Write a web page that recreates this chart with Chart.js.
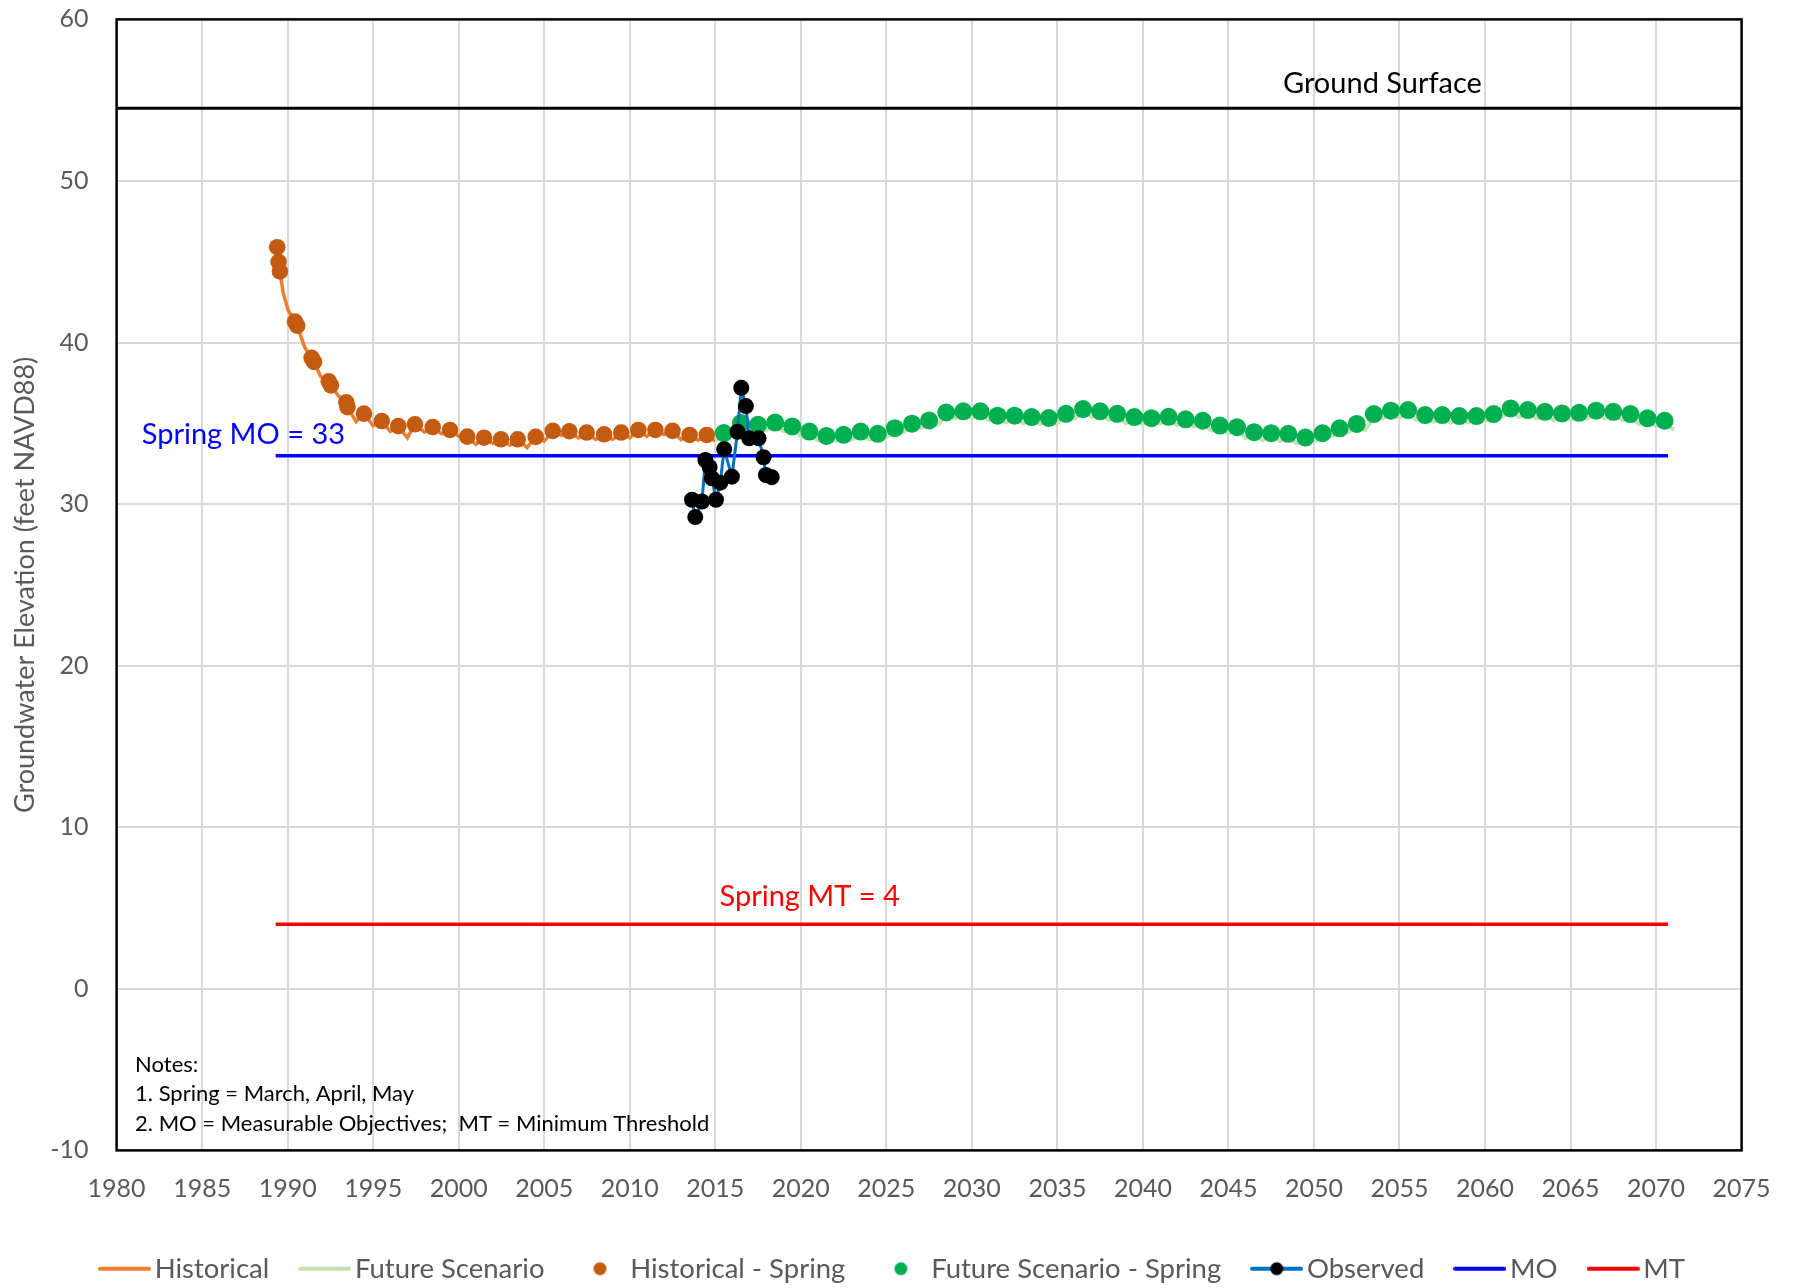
<!DOCTYPE html>
<html><head><meta charset="utf-8">
<script src="https://cdn.jsdelivr.net/npm/chart.js@4.4.1/dist/chart.umd.min.js"></script>
<style>html,body{margin:0;padding:0;background:#fff;}canvas{display:block;}</style>
</head><body>
<canvas id="c" width="1793" height="1288"></canvas>
<script>
// ---------- DATA ----------
const xTickLabels = [1980,1985,1990,1995,2000,2005,2010,2015,2020,2025,2030,2035,2040,2045,2050,2055,2060,2065,2070,2075];
const yTickLabels = [-10,0,10,20,30,40,50,60];

const histSpringX = [1989.39,1989.47,1989.55,1990.43,1990.56,1991.40,1991.54,1992.40,1992.53,1993.43,1993.50,1994.46,1995.50,1996.47,1997.44,1998.48,1999.49,2000.50,2001.48,2002.47,2003.45,2004.50,2005.50,2006.47,2007.48,2008.50,2009.50,2010.50,2011.50,2012.50,2013.50,2014.50];
const histSpringY = [45.9,45.0,44.4,41.3,41.05,39.05,38.8,37.6,37.35,36.3,36.0,35.6,35.14,34.83,34.94,34.77,34.59,34.18,34.11,34.01,34.01,34.16,34.53,34.51,34.43,34.32,34.43,34.59,34.59,34.53,34.28,34.28];

const histLineX = [1989.39,1989.47,1989.55,1989.74,1990.03,1990.43,1990.56,1991.0,1991.40,1991.54,1991.93,1992.40,1992.53,1992.96,1993.43,1993.50,1994.0,1994.46,1995.0,1995.50,1996.0,1996.47,1997.0,1997.44,1998.0,1998.48,1999.0,1999.49,2000.0,2000.50,2001.0,2001.48,2002.0,2002.47,2003.0,2003.45,2004.0,2004.50,2005.0,2005.50,2006.0,2006.47,2007.0,2007.48,2008.0,2008.50,2009.0,2009.50,2010.0,2010.50,2011.0,2011.50,2012.0,2012.50,2013.0,2013.50,2014.0,2014.50,2015.0];
const histLineY = [45.9,45.0,44.4,43.07,42.0,41.3,41.05,39.7,39.05,38.8,37.9,37.6,37.35,36.7,36.3,36.0,35.1,35.6,34.85,35.14,34.5,34.83,34.1,34.94,34.45,34.77,34.35,34.59,34.2,34.18,33.7,34.11,33.75,34.01,33.65,34.01,33.5,34.16,33.9,34.53,34.25,34.51,34.1,34.43,34.0,34.32,34.0,34.43,34.1,34.59,34.2,34.59,34.3,34.53,34.0,34.28,33.95,34.28,33.9];

const futSpringX = [2015.5,2016.5,2017.5,2018.5,2019.5,2020.5,2021.5,2022.5,2023.5,2024.5,2025.5,2026.5,2027.5,2028.5,2029.5,2030.5,2031.5,2032.5,2033.5,2034.5,2035.5,2036.5,2037.5,2038.5,2039.5,2040.5,2041.5,2042.5,2043.5,2044.5,2045.5,2046.5,2047.5,2048.5,2049.5,2050.5,2051.5,2052.5,2053.5,2054.5,2055.5,2056.5,2057.5,2058.5,2059.5,2060.5,2061.5,2062.5,2063.5,2064.5,2065.5,2066.5,2067.5,2068.5,2069.5,2070.5];
const futSpringY = [34.40,35.02,34.91,35.05,34.81,34.49,34.22,34.29,34.49,34.35,34.70,34.98,35.18,35.67,35.74,35.74,35.47,35.47,35.39,35.33,35.59,35.88,35.74,35.59,35.39,35.32,35.40,35.25,35.16,34.86,34.76,34.45,34.39,34.35,34.12,34.39,34.69,34.96,35.57,35.78,35.82,35.51,35.51,35.45,35.45,35.57,35.92,35.82,35.71,35.61,35.65,35.78,35.71,35.57,35.31,35.16];

const futLineX = [2015.0,2015.5,2016.0,2016.5,2017.0,2017.5,2018.0,2018.5,2019.0,2019.5,2020.0,2020.5,2021.0,2021.5,2022.0,2022.5,2023.0,2023.5,2024.0,2024.5,2025.0,2025.5,2026.0,2026.5,2027.0,2027.5,2028.0,2028.5,2029.0,2029.5,2030.0,2030.5,2031.0,2031.5,2032.0,2032.5,2033.0,2033.5,2034.0,2034.5,2035.0,2035.5,2036.0,2036.5,2037.0,2037.5,2038.0,2038.5,2039.0,2039.5,2040.0,2040.5,2041.0,2041.5,2042.0,2042.5,2043.0,2043.5,2044.0,2044.5,2045.0,2045.5,2046.0,2046.5,2047.0,2047.5,2048.0,2048.5,2049.0,2049.5,2050.0,2050.5,2051.0,2051.5,2052.0,2052.5,2053.0,2053.5,2054.0,2054.5,2055.0,2055.5,2056.0,2056.5,2057.0,2057.5,2058.0,2058.5,2059.0,2059.5,2060.0,2060.5,2061.0,2061.5,2062.0,2062.5,2063.0,2063.5,2064.0,2064.5,2065.0,2065.5,2066.0,2066.5,2067.0,2067.5,2068.0,2068.5,2069.0,2069.5,2070.0,2070.5,2071.05];
const futLineY = [33.95,34.25,34.3,34.85,34.5,34.75,34.6,34.9,34.5,34.65,34.2,34.35,33.95,34.05,33.9,34.15,34.0,34.35,34.0,34.2,34.15,34.55,34.45,34.8,34.7,35.0,34.9,35.5,35.3,35.6,35.35,35.6,35.2,35.3,35.05,35.3,35.0,35.2,34.95,35.15,35.0,35.45,35.3,35.7,35.4,35.6,35.2,35.45,35.0,35.2,34.95,35.15,35.0,35.2,34.9,35.1,34.8,35.0,34.55,34.7,34.4,34.6,34.1,34.3,33.95,34.2,33.9,34.2,33.75,33.95,33.9,34.2,34.2,34.5,34.45,34.8,34.6,35.4,35.3,35.6,35.35,35.65,35.2,35.35,35.1,35.35,35.05,35.3,35.05,35.3,35.15,35.4,35.4,35.75,35.4,35.65,35.3,35.55,35.2,35.45,35.2,35.5,35.3,35.6,35.3,35.55,35.2,35.4,34.95,35.15,34.85,35.0,34.6];

const obsX = [2013.64,2013.83,2014.22,2014.42,2014.67,2014.80,2015.04,2015.29,2015.52,2015.97,2016.30,2016.52,2016.79,2016.98,2017.53,2017.82,2017.96,2018.30];
const obsY = [30.27,29.2,30.16,32.73,32.28,31.6,30.27,31.33,33.4,31.7,34.48,37.2,36.07,34.07,34.07,32.9,31.8,31.67];

const moValue = 33;
const mtValue = 4;
const groundSurfaceValue = 54.5;
const thresholdYears = [1989.3, 2070.7];
const groundYears = [1980, 2075];

const legendNames = ["Historical","Future Scenario","Historical - Spring","Future Scenario - Spring","Observed","MO","MT"];
const notesLines = ["Notes:","1. Spring = March, April, May","2. MO = Measurable Objectives;  MT = Minimum Threshold"];

// ---------- STYLE ----------
const FONT = "Lato";
const GREY = "#595959";
const C = {hist:"#ED7D31", histDot:"#C55A11", fut:"#C5E0B4", futDot:"#00B050", obs:"#0070C0", mo:"#0000FF", mt:"#FF0000"};

const pts = (xs, ys) => xs.map((x,i)=>({x:x, y:ys[i]}));
const flat = (xs, v) => xs.map(x=>({x:x, y:v}));

function symbol(kind, color, dotColor){
  const cv = document.createElement('canvas');
  cv.width = 53; cv.height = 16;
  const g = cv.getContext('2d');
  if (kind === 'line' || kind === 'linedot'){
    g.strokeStyle = color; g.lineWidth = 4; g.lineCap = 'round';
    g.beginPath(); g.moveTo(2, 8); g.lineTo(51, 8); g.stroke();
  }
  if (kind === 'dot' || kind === 'linedot'){
    g.fillStyle = dotColor || color;
    g.beginPath(); g.arc(26.5, 8, 6.5, 0, Math.PI*2); g.fill();
  }
  return cv;
}
const legendSymbols = [
  symbol('line', C.hist), symbol('line', C.fut), symbol('dot', C.histDot), symbol('dot', C.futDot),
  symbol('linedot', C.obs, '#000'), symbol('line', C.mo), symbol('line', C.mt)
];

const datasets = [
  {label:"Historical", data:pts(histLineX,histLineY), showLine:true, borderColor:C.hist, borderWidth:3.5, pointRadius:0, order:7},
  {label:"Future Scenario", data:pts(futLineX,futLineY), showLine:true, borderColor:C.fut, borderWidth:4, pointRadius:0, order:6},
  {label:"Historical - Spring", data:pts(histSpringX,histSpringY), showLine:false, backgroundColor:C.histDot, borderColor:C.histDot, pointRadius:8.3, borderWidth:0, order:5},
  {label:"Future Scenario - Spring", data:pts(futSpringX,futSpringY), showLine:false, backgroundColor:C.futDot, borderColor:C.futDot, pointRadius:9, borderWidth:0, order:4},
  {label:"Observed", data:pts(obsX,obsY), showLine:true, borderColor:C.obs, borderWidth:3, backgroundColor:'#000', pointBorderColor:'#000', pointRadius:8, pointBorderWidth:0, order:1},
  {label:"MO", data:flat(thresholdYears,moValue), showLine:true, borderColor:C.mo, borderWidth:3.5, pointRadius:0, order:2},
  {label:"MT", data:flat(thresholdYears,mtValue), showLine:true, borderColor:C.mt, borderWidth:3.5, pointRadius:0, order:3},
  {label:"Ground Surface", data:flat(groundYears,groundSurfaceValue), showLine:true, borderColor:'#000', borderWidth:3, pointRadius:0, order:0}
];

const textPlugin = {
  id:'texts',
  beforeDatasetsDraw(chart){
    const {ctx, chartArea:a} = chart;
    ctx.save();
    ctx.strokeStyle = '#000'; ctx.lineWidth = 2.5;
    ctx.strokeRect(a.left, a.top, a.right-a.left, a.bottom-a.top);
    ctx.restore();
  },
  afterDraw(chart){
    const {ctx} = chart;
    const x = chart.scales.x, y = chart.scales.y;
    ctx.save();
    ctx.textBaseline = 'middle';
    ctx.font = `29px ${FONT}`;
    ctx.fillStyle = '#000'; ctx.textAlign = 'center';
    ctx.fillText("Ground Surface", x.getPixelForValue(2054.0), y.getPixelForValue(56.0));
    ctx.fillStyle = C.mo; ctx.textAlign = 'left';
    ctx.fillText("Spring MO = " + moValue, x.getPixelForValue(1981.47), y.getPixelForValue(34.31));
    ctx.fillStyle = C.mt; ctx.textAlign = 'center';
    ctx.fillText("Spring MT = " + mtValue, x.getPixelForValue(2020.52), y.getPixelForValue(5.72));
    ctx.fillStyle = '#000'; ctx.textAlign = 'left';
    ctx.font = `22px ${FONT}`;
    const noteY = [-4.68, -6.52, -8.36];
    notesLines.forEach((t,i)=>ctx.fillText(t, x.getPixelForValue(1981.08), y.getPixelForValue(noteY[i])));
    ctx.restore();
  }
};

new Chart(document.getElementById('c'), {
  type:'scatter',
  data:{datasets},
  options:{
    responsive:false, devicePixelRatio:1, animation:false, events:[],
    layout:{padding:{left:0, right:0, top:19.4, bottom:0}},
    scales:{
      x:{type:'linear', min:xTickLabels[0], max:xTickLabels[xTickLabels.length-1],
         afterBuildTicks(s){ s.ticks = xTickLabels.map(v=>({value:v})); },
         afterFit(s){ s.height = 65.6; s.paddingLeft = 0; s.paddingRight = 0; },
         grid:{color:'#D9D9D9', lineWidth:2, drawTicks:false},
         border:{display:false},
         ticks:{color:GREY, font:{family:FONT, size:25}, padding:24, maxRotation:0, autoSkip:false, callback:v=>String(v)}},
      y:{type:'linear', min:yTickLabels[0], max:yTickLabels[yTickLabels.length-1],
         afterBuildTicks(s){ s.ticks = yTickLabels.map(v=>({value:v})); },
         afterFit(s){ s.width = 116.6; s.paddingTop = 0; s.paddingBottom = 0; },
         grid:{color:'#D9D9D9', lineWidth:2, drawTicks:false},
         border:{display:false},
         ticks:{color:GREY, font:{family:FONT, size:25}, padding:28, callback:v=>String(v)},
         title:{display:true, text:"Groundwater Elevation (feet NAVD88)", color:GREY, font:{family:FONT, size:27}, padding:{top:9, bottom:0}}},
      yRight:{type:'linear', position:'right', min:yTickLabels[0], max:yTickLabels[yTickLabels.length-1],
         afterFit(s){ s.width = 51.4; s.paddingTop = 0; s.paddingBottom = 0; },
         grid:{display:false, drawOnChartArea:false}, border:{display:false},
         ticks:{display:false}}
    },
    plugins:{
      tooltip:{enabled:false},
      legend:{position:'bottom', maxHeight:72,
        labels:{usePointStyle:true, pointStyleWidth:33, padding:39, color:GREY, font:{family:FONT, size:27.5},
          generateLabels(){ return legendNames.map((n,i)=>({text:n, pointStyle:legendSymbols[i], fillStyle:'#000', strokeStyle:'#000', lineWidth:0, hidden:false, datasetIndex:i, fontColor:GREY})); }}}
    }
  },
  plugins:[textPlugin]
});
</script>
</body></html>
